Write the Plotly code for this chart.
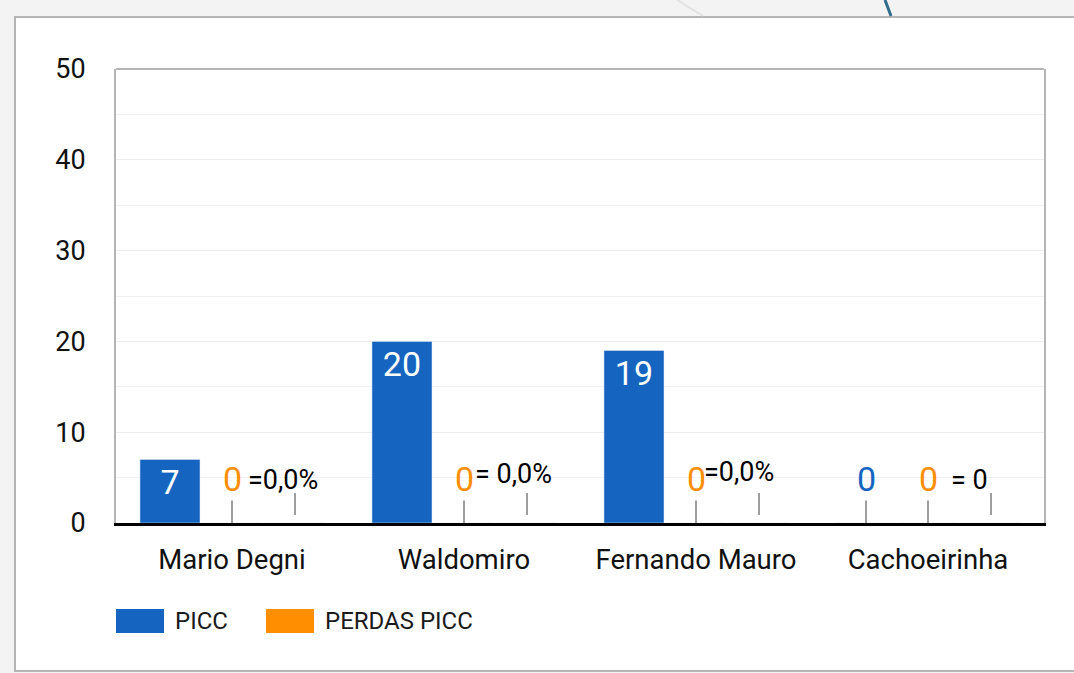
import plotly.graph_objects as go

# ---------------- data ----------------
categories = ["Mario Degni", "Waldomiro", "Fernando Mauro", "Cachoeirinha"]
series_names = ["PICC", "PERDAS PICC"]
picc = [7, 20, 19, 0]
perdas_picc = [0, 0, 0, 0]
perc_values = [0, 0, 0, 0]
perc_labels = ["=0,0%", "= 0,0%", "=0,0%", "= 0"]
y_ticks = [0, 10, 20, 30, 40, 50]

# ---------------- style ----------------
BLUE = "#1565C0"
ORANGE = "#FF8F00"
FONT = "Roboto"
STEM = "#9e9e9e"
BORDER = "#b5b5b5"
W, H = 1074, 673
L, R, T, B = 116, 30, 69, 150
PW, PH = W - L - R, H - T - B
SLOT = 62  # pixel offset between bars in a group
# offsets (px) of the percentage labels relative to category centre
perc_dx = [51, 49, 43, 41]
perc_dy = [43, 49, 51, 43]


def px_x(p):
    return (p - L) / PW


def px_y(p):
    return (H - B - p) / PH


fig = go.Figure()
fig.add_trace(go.Bar(
    x=categories, y=picc, name=series_names[0], marker_color=BLUE,
    text=[str(v) if v > 0 else "" for v in picc],
    textposition="inside", insidetextanchor="end",
    textfont=dict(color="white", size=34, family=FONT),
    showlegend=False,
))
fig.add_trace(go.Bar(
    x=categories, y=perdas_picc, name=series_names[1], marker_color=ORANGE,
    showlegend=False,
))
fig.add_trace(go.Bar(
    x=categories, y=perc_values, name="%", marker_color="rgba(0,0,0,0)",
    showlegend=False,
))

annotations = []
# zero-valued labels with stems
for series_idx, (vals, col) in enumerate([(picc, BLUE), (perdas_picc, ORANGE)]):
    for cat, v in zip(categories, vals):
        if v == 0:
            annotations.append(dict(
                x=cat, y=v, xref="x", yref="y", text="0", showarrow=True,
                arrowhead=0, arrowwidth=2, arrowcolor=STEM, ax=0, ay=-44,
                xshift=(series_idx - 1) * SLOT,
                font=dict(size=34, color=col, family=FONT),
            ))
# percentage series stems + labels
for i, (cat, v, lab) in enumerate(zip(categories, perc_values, perc_labels)):
    annotations.append(dict(
        x=cat, y=v, xref="x", yref="y", text=" ", showarrow=True,
        arrowhead=0, arrowwidth=2, arrowcolor=STEM, ax=0, ay=-32,
        standoff=8, xshift=SLOT + 1, font=dict(size=1, color="white"),
    ))
    annotations.append(dict(
        x=cat, y=v, xref="x", yref="y", text=lab, showarrow=False,
        xshift=perc_dx[i], yshift=perc_dy[i], xanchor="center", yanchor="middle",
        font=dict(size=27, color="black", family=FONT),
    ))

# legend (manual)
shapes = []
legend_cols = [BLUE, ORANGE]
legend_x = [116, 266]
for name, col, lx in zip(series_names, legend_cols, legend_x):
    shapes.append(dict(type="rect", xref="paper", yref="paper",
                       x0=px_x(lx), x1=px_x(lx + 48), y0=px_y(633), y1=px_y(609),
                       fillcolor=col, line=dict(width=0)))
    annotations.append(dict(x=px_x(lx + 57), y=px_y(621), xref="paper", yref="paper",
                            text=name, showarrow=False, xanchor="left", yanchor="middle",
                            font=dict(size=24, color="#1a1a1a", family=FONT)))

# outer card and decorations
shapes.insert(0, dict(type="rect", xref="paper", yref="paper", layer="below",
                      x0=px_x(15), x1=px_x(1090), y0=px_y(671), y1=px_y(17),
                      fillcolor="white", line=dict(color=BORDER, width=2)))
shapes.append(dict(type="line", xref="paper", yref="paper", layer="below",
                   x0=px_x(677), x1=px_x(703), y0=px_y(0), y1=px_y(16),
                   line=dict(color="#e2e2e2", width=2)))
shapes.append(dict(type="line", xref="paper", yref="paper", layer="below",
                   x0=px_x(885), x1=px_x(891), y0=px_y(0), y1=px_y(16),
                   line=dict(color="#2f6d8c", width=3)))
# top border of plot area
shapes.append(dict(type="line", xref="paper", yref="paper",
                   x0=0, x1=1, y0=1, y1=1, line=dict(color=BORDER, width=2)))

fig.update_layout(
    width=W, height=H,
    margin=dict(l=L, r=R, t=T, b=B, pad=0),
    paper_bgcolor="#f3f3f3", plot_bgcolor="white",
    barmode="group", bargap=0.198, bargroupgap=0.032,
    font=dict(family=FONT, color="#222222"),
    shapes=shapes, annotations=annotations,
    showlegend=False,
)
fig.update_yaxes(
    range=[0, 50], tickvals=y_ticks, ticktext=[str(t) for t in y_ticks],
    showgrid=True, gridcolor="#ececec", gridwidth=1,
    minor=dict(dtick=5, showgrid=True, gridcolor="#f0f0f0", gridwidth=1),
    zeroline=False,
    showline=True, mirror=True, linecolor=BORDER, linewidth=2,
    ticks="", ticklabelstandoff=23,
    tickfont=dict(size=27, color="#111111", family=FONT),
)
fig.update_xaxes(
    showline=True, mirror=False, linecolor="black", linewidth=3,
    ticks="", ticklabelstandoff=10, showgrid=False,
    tickfont=dict(size=27.5, color="#111111", family=FONT),
)

fig.write_html(
    "out.html",
    config={"displayModeBar": False},
    post_script="document.body.style.margin='0';document.body.style.background='#f3f3f3';",
)
